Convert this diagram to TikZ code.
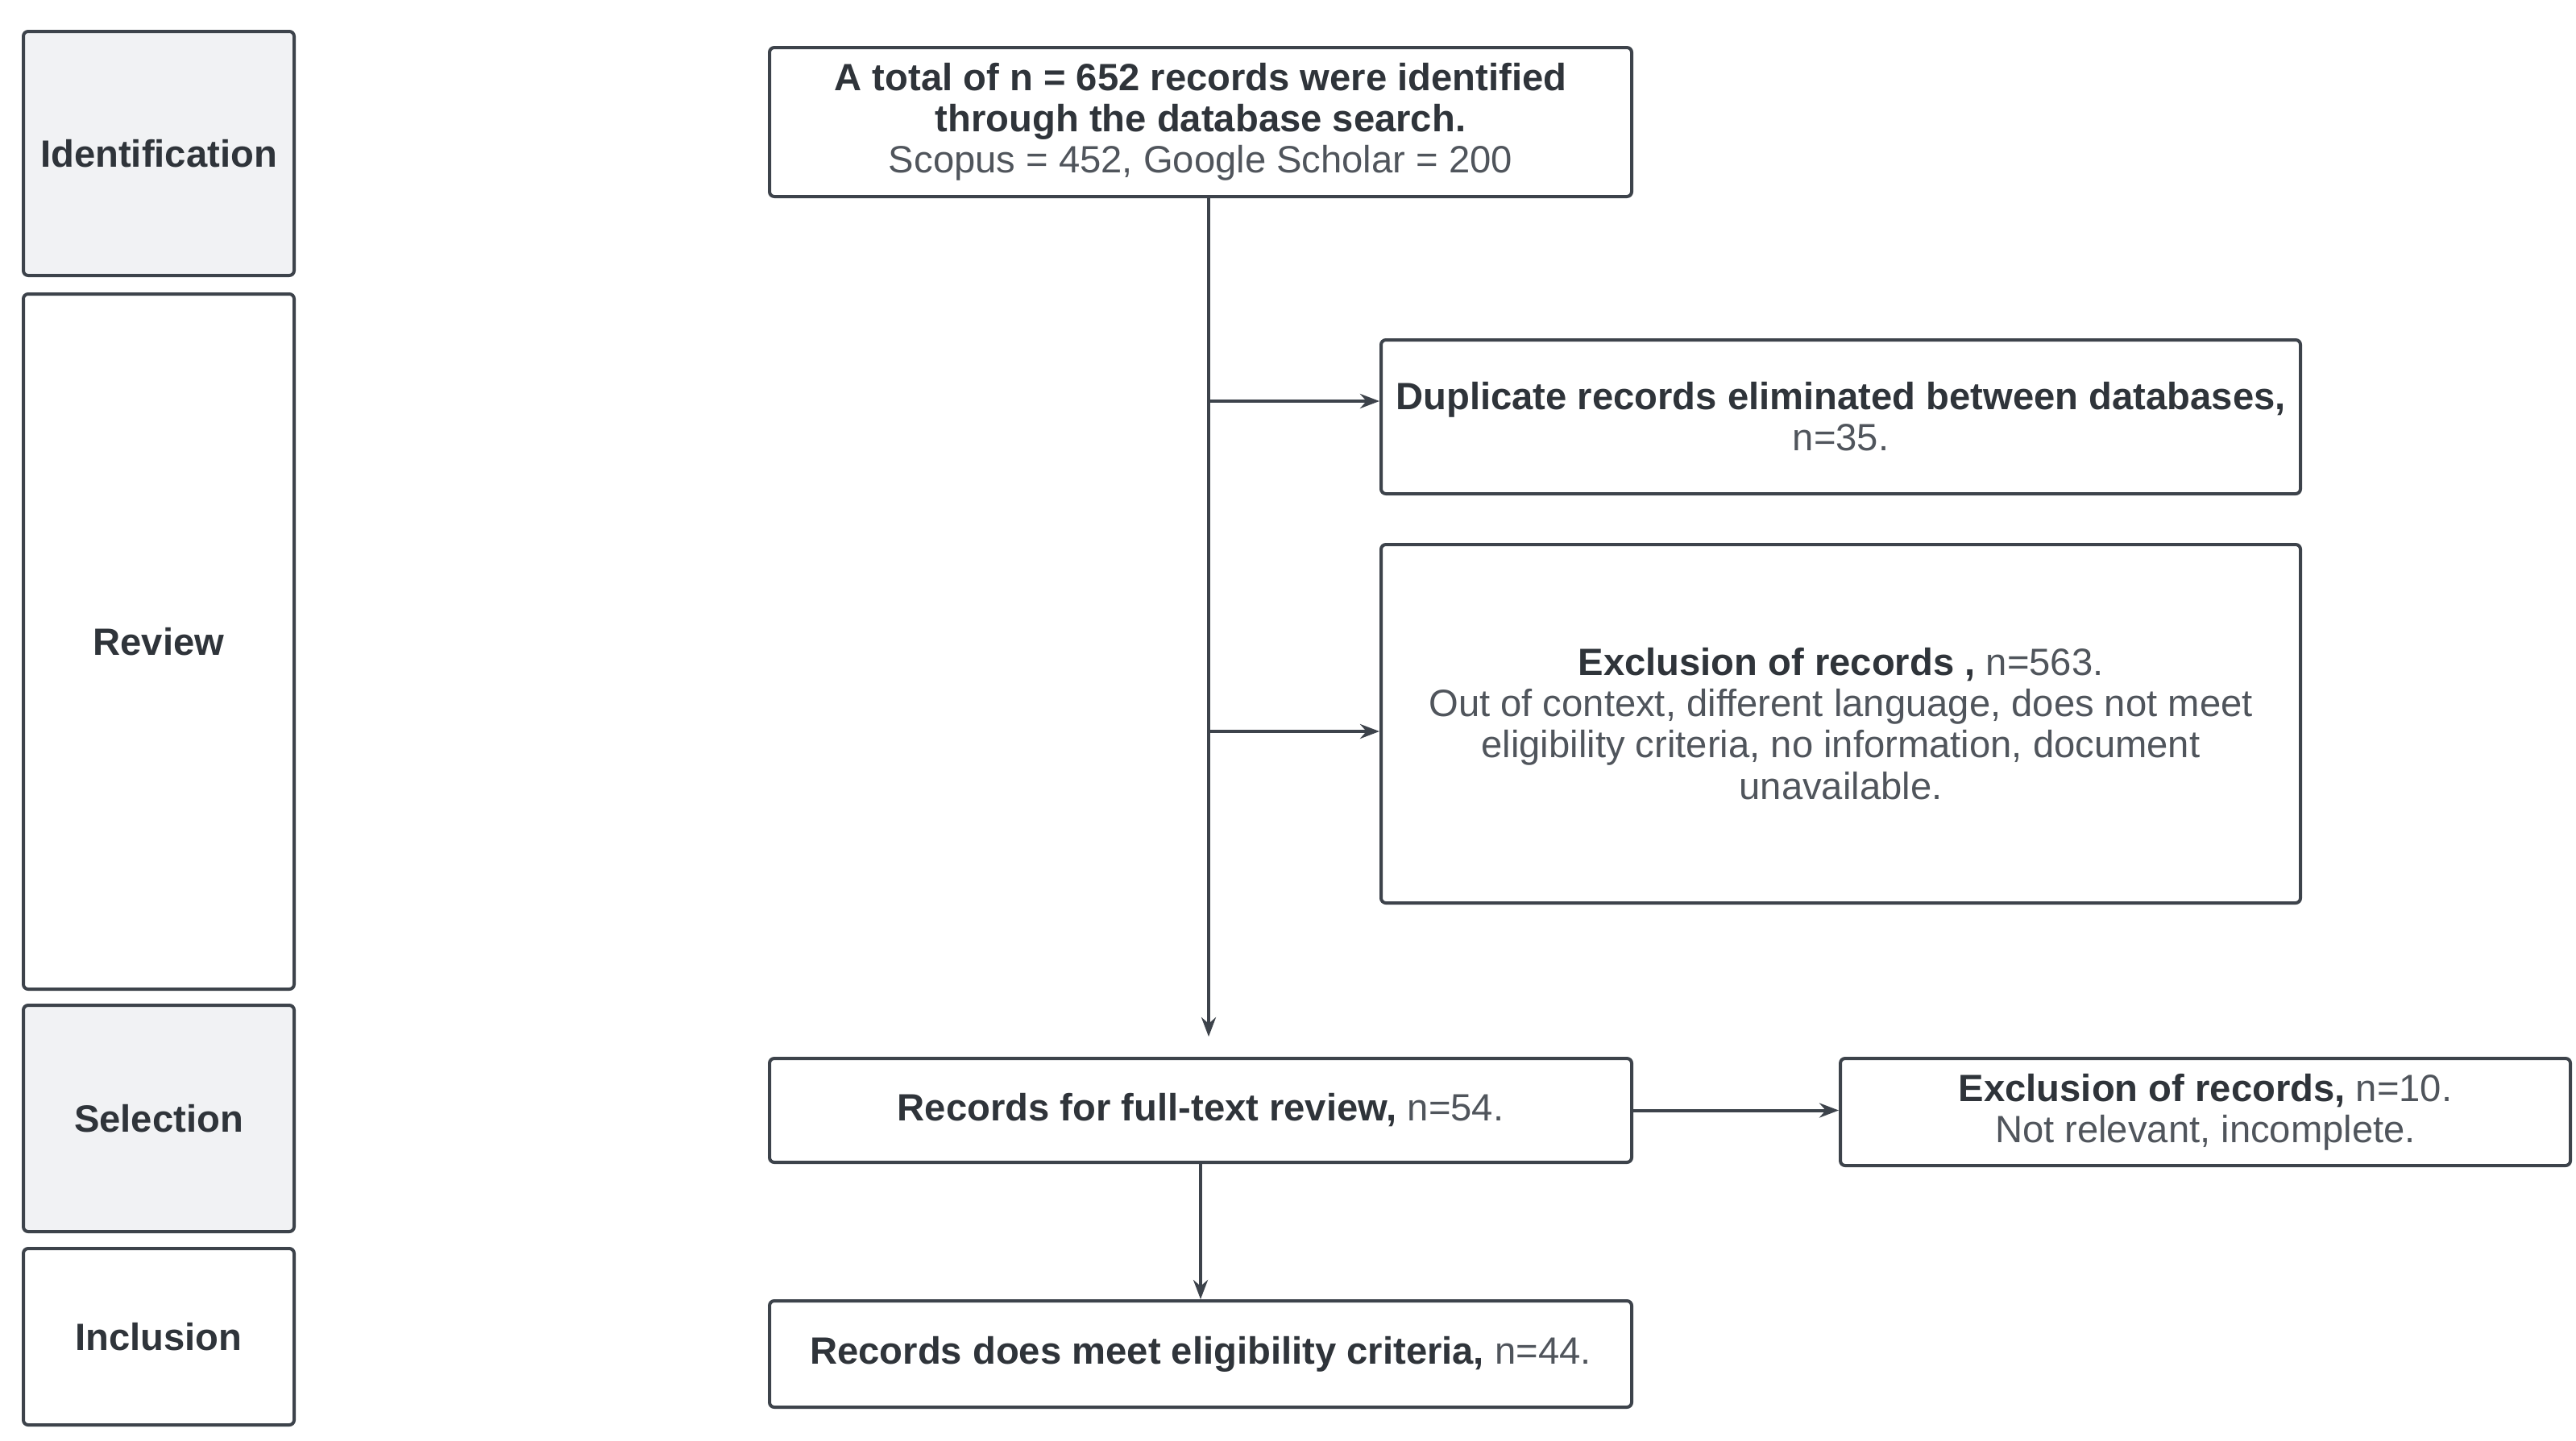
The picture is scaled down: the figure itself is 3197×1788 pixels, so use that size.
\documentclass[tikz,border=0pt]{standalone}
\usepackage{fontspec}
\setmainfont{Liberation Sans}
\usetikzlibrary{arrows.meta}
\definecolor{ln}{HTML}{3D434B}
\definecolor{tx}{HTML}{2F343A}
\definecolor{tl}{HTML}{50555C}
\definecolor{stagefill}{HTML}{F1F2F4}
\begin{document}
\begin{tikzpicture}[x=0.25pt,y=-0.25pt,
  box/.style={draw=ln, line width=1pt, rounded corners=1.5pt, anchor=north west, inner sep=0pt, align=center, text=tx, font=\fontsize{11.8}{12.8}\selectfont},
  stage/.style={box, font=\fontsize{11.8}{12.8}\selectfont\bfseries},
  arr/.style={draw=ln, line width=1pt, -{Stealth[length=6pt,width=4.5pt]}}]
\path[use as bounding box, fill=white] (0,0) rectangle (3197,1788);
% stage column
\node[stage, fill=stagefill, minimum width=84pt, minimum height=75.75pt] (s1) at (27,37) {Identification};
\node[stage, minimum width=84pt, minimum height=215.75pt] (s2) at (27,363) {Review};
\node[stage, fill=stagefill, minimum width=84pt, minimum height=70.25pt] (s3) at (27,1246) {Selection};
\node[stage, minimum width=84pt, minimum height=54.75pt] (s4) at (27,1548) {Inclusion};
% flow boxes
\node[box, minimum width=267.5pt, minimum height=46.25pt] (A) at (953,57)
  {\textbf{A total of n = 652 records were identified}\\\textbf{through the database search.}\\{\color{tl}Scopus = 452, Google Scholar = 200}};
\node[box, minimum width=285.25pt, minimum height=47.75pt] (dup) at (1712,420)
  {\textbf{Duplicate records eliminated between databases,}\\{\color{tl}n=35.}};
\node[box, minimum width=285.25pt, minimum height=111.25pt] (ex) at (1712,674)
  {\textbf{Exclusion of records ,} {\color{tl}n=563.}\\\color{tl}Out of context, different language, does not meet\\\color{tl}eligibility criteria, no information, document\\\color{tl}unavailable.};
\node[box, minimum width=267.5pt, minimum height=32.25pt] (full) at (953,1312)
  {\textbf{Records for full-text review,} {\color{tl}n=54.}};
\node[box, minimum width=226.5pt, minimum height=33.25pt] (ex10) at (2282,1312)
  {\textbf{Exclusion of records,} {\color{tl}n=10.}\\\color{tl}Not relevant, incomplete.};
\node[box, minimum width=267.5pt, minimum height=33pt] (incl) at (953,1613)
  {\textbf{Records does meet eligibility criteria,} {\color{tl}n=44.}};
% connectors
\coordinate (trunk) at (1500,1287);
\coordinate (j1) at (1500,498);
\coordinate (j2) at (1500,908);
\draw[arr, line width=1.2pt] (A.south -| trunk) -- (trunk);
\draw[arr] (j1) -- (j1 -| dup.west);
\draw[arr] (j2) -- (j2 -| ex.west);
\draw[arr] (full.east) -- (full.east -| ex10.west);
\draw[arr] (full.south) -- (incl.north);
\end{tikzpicture}
\end{document}
